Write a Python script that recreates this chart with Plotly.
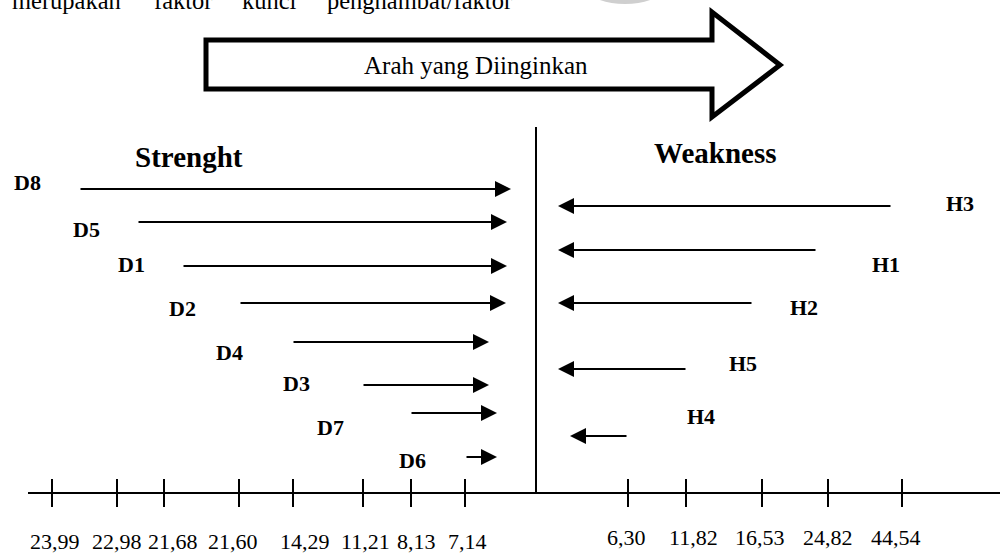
import plotly.graph_objects as go

# ---------------- data ----------------
strength_factors = ["D8", "D5", "D1", "D2", "D4", "D3", "D7", "D6"]
strength_values = [23.99, 22.98, 21.68, 21.60, 14.29, 11.21, 8.13, 7.14]
weakness_factors = ["H3", "H1", "H2", "H5", "H4"]
weakness_values = [44.54, 24.82, 16.53, 11.82, 6.30]
weakness_tick_values = [6.30, 11.82, 16.53, 24.82, 44.54]

# ---------------- layout (schematic positions, pixel-like diagram units) ----------------
W, H = 1000, 554
strength_tick_x = [52, 117, 164, 239, 293, 363, 411, 465]
strength_label_x = [55, 117, 173, 233, 305, 365, 416, 467]
weakness_tick_x = [628, 686, 762, 828, 902]
weakness_label_x = [626, 693, 760, 828, 896]

s_start_x = [79, 137, 182, 239, 292, 362, 410, 465]
s_tip_x = [511, 507, 507, 506, 489, 489, 497, 497]
s_row_y = [189, 222, 266, 303, 342, 385, 413, 457]
s_lab_xy = [(27, 182), (86, 229), (131, 264), (182, 308), (229, 352), (296, 383), (330, 427), (412, 460)]

w_start_x = [892, 817, 753, 687, 628]
w_tip_x = [558, 558, 558, 558, 570]
w_row_y = [206, 250, 303, 369, 436]
w_lab_xy = [(960, 203), (886, 264), (804, 307), (743, 363), (701, 416)]

axis_y = 493
axis_x0, axis_x1 = 28, 1000
center_x = 536
center_top = 127
tick_half = 14

SERIF = "Liberation Serif"

def fmt(v):
    return f"{v:.2f}".replace(".", ",")

fig = go.Figure()

# axis line + vertical divider
fig.add_trace(go.Scatter(x=[axis_x0, axis_x1], y=[axis_y, axis_y], mode="lines",
                         line=dict(color="black", width=2), hoverinfo="skip"))
fig.add_trace(go.Scatter(x=[center_x, center_x], y=[center_top, axis_y], mode="lines",
                         line=dict(color="black", width=2), hoverinfo="skip"))

# tick marks
tx, ty = [], []
for x in strength_tick_x + weakness_tick_x:
    tx += [x, x, None]
    ty += [axis_y - tick_half, axis_y + tick_half, None]
fig.add_trace(go.Scatter(x=tx, y=ty, mode="lines", line=dict(color="black", width=2),
                         hoverinfo="skip"))

ann = []
# tick labels
for v, x in zip(strength_values, strength_label_x):
    ann.append(dict(x=x, y=541, text=fmt(v), showarrow=False, xanchor="center", yanchor="middle",
                    font=dict(family=SERIF, size=22, color="black")))
for v, x in zip(weakness_tick_values, weakness_label_x):
    ann.append(dict(x=x, y=537, text=fmt(v), showarrow=False, xanchor="center", yanchor="middle",
                    font=dict(family=SERIF, size=22, color="black")))

# strength arrows and labels
for name, x0, x1, y, (lx, ly) in zip(strength_factors, s_start_x, s_tip_x, s_row_y, s_lab_xy):
    ann.append(dict(x=x1, y=y, ax=x0, ay=y, axref="x", ayref="y", text="", showarrow=True,
                    arrowhead=2, arrowsize=1.6, arrowwidth=2, arrowcolor="black", standoff=0))
    ann.append(dict(x=lx, y=ly, text=f"<b>{name}</b>", showarrow=False, xanchor="center", yanchor="middle",
                    font=dict(family=SERIF, size=22, color="black")))

# weakness arrows and labels
for name, x0, x1, y, (lx, ly) in zip(weakness_factors, w_start_x, w_tip_x, w_row_y, w_lab_xy):
    ann.append(dict(x=x1, y=y, ax=x0, ay=y, axref="x", ayref="y", text="", showarrow=True,
                    arrowhead=2, arrowsize=1.6, arrowwidth=2, arrowcolor="black", standoff=0))
    ann.append(dict(x=lx, y=ly, text=f"<b>{name}</b>", showarrow=False, xanchor="center", yanchor="middle",
                    font=dict(family=SERIF, size=22, color="black")))

# section titles
ann.append(dict(x=189, y=157, text="<b>Strenght</b>", showarrow=False, xanchor="center", yanchor="middle",
                font=dict(family=SERIF, size=29, color="black")))
ann.append(dict(x=715, y=153, text="<b>Weakness</b>", showarrow=False, xanchor="center", yanchor="middle",
                font=dict(family=SERIF, size=29, color="black")))

# big direction arrow
ann.append(dict(x=476, y=65, text="Arah yang Diinginkan", showarrow=False, xanchor="center", yanchor="middle",
                font=dict(family=SERIF, size=25, color="black")))

# clipped line of body text at the very top
top_words = ["merupakan", "faktor", "kunci", "penghambat/faktor"]
top_word_x = [10, 152, 240, 325]
for wd, x in zip(top_words, top_word_x):
    ann.append(dict(x=x, y=0, text=wd, showarrow=False, xanchor="left", yanchor="middle",
                    font=dict(family=SERIF, size=24.5, color="black")))

shapes = [
    dict(type="path", xref="x", yref="y",
         path="M 206 40 L 712 40 L 712 12 L 780 65 L 712 117 L 712 89 L 206 89 Z",
         line=dict(color="black", width=5), fillcolor="white", layer="below"),
    dict(type="circle", xref="x", yref="y", x0=583, x1=667, y0=-40, y1=2,
         line=dict(color="#cfcfcf", width=4), fillcolor="white", layer="below"),
]

fig.update_layout(
    width=W, height=H, margin=dict(l=0, r=0, t=0, b=0),
    paper_bgcolor="white", plot_bgcolor="white", showlegend=False,
    annotations=ann, shapes=shapes,
    xaxis=dict(range=[0, W], visible=False, fixedrange=True),
    yaxis=dict(range=[H, 0], visible=False, fixedrange=True),
)
fig.write_html("out.html", config={"displayModeBar": False},
               post_script="document.body.style.margin='0';document.body.style.overflow='hidden';")
